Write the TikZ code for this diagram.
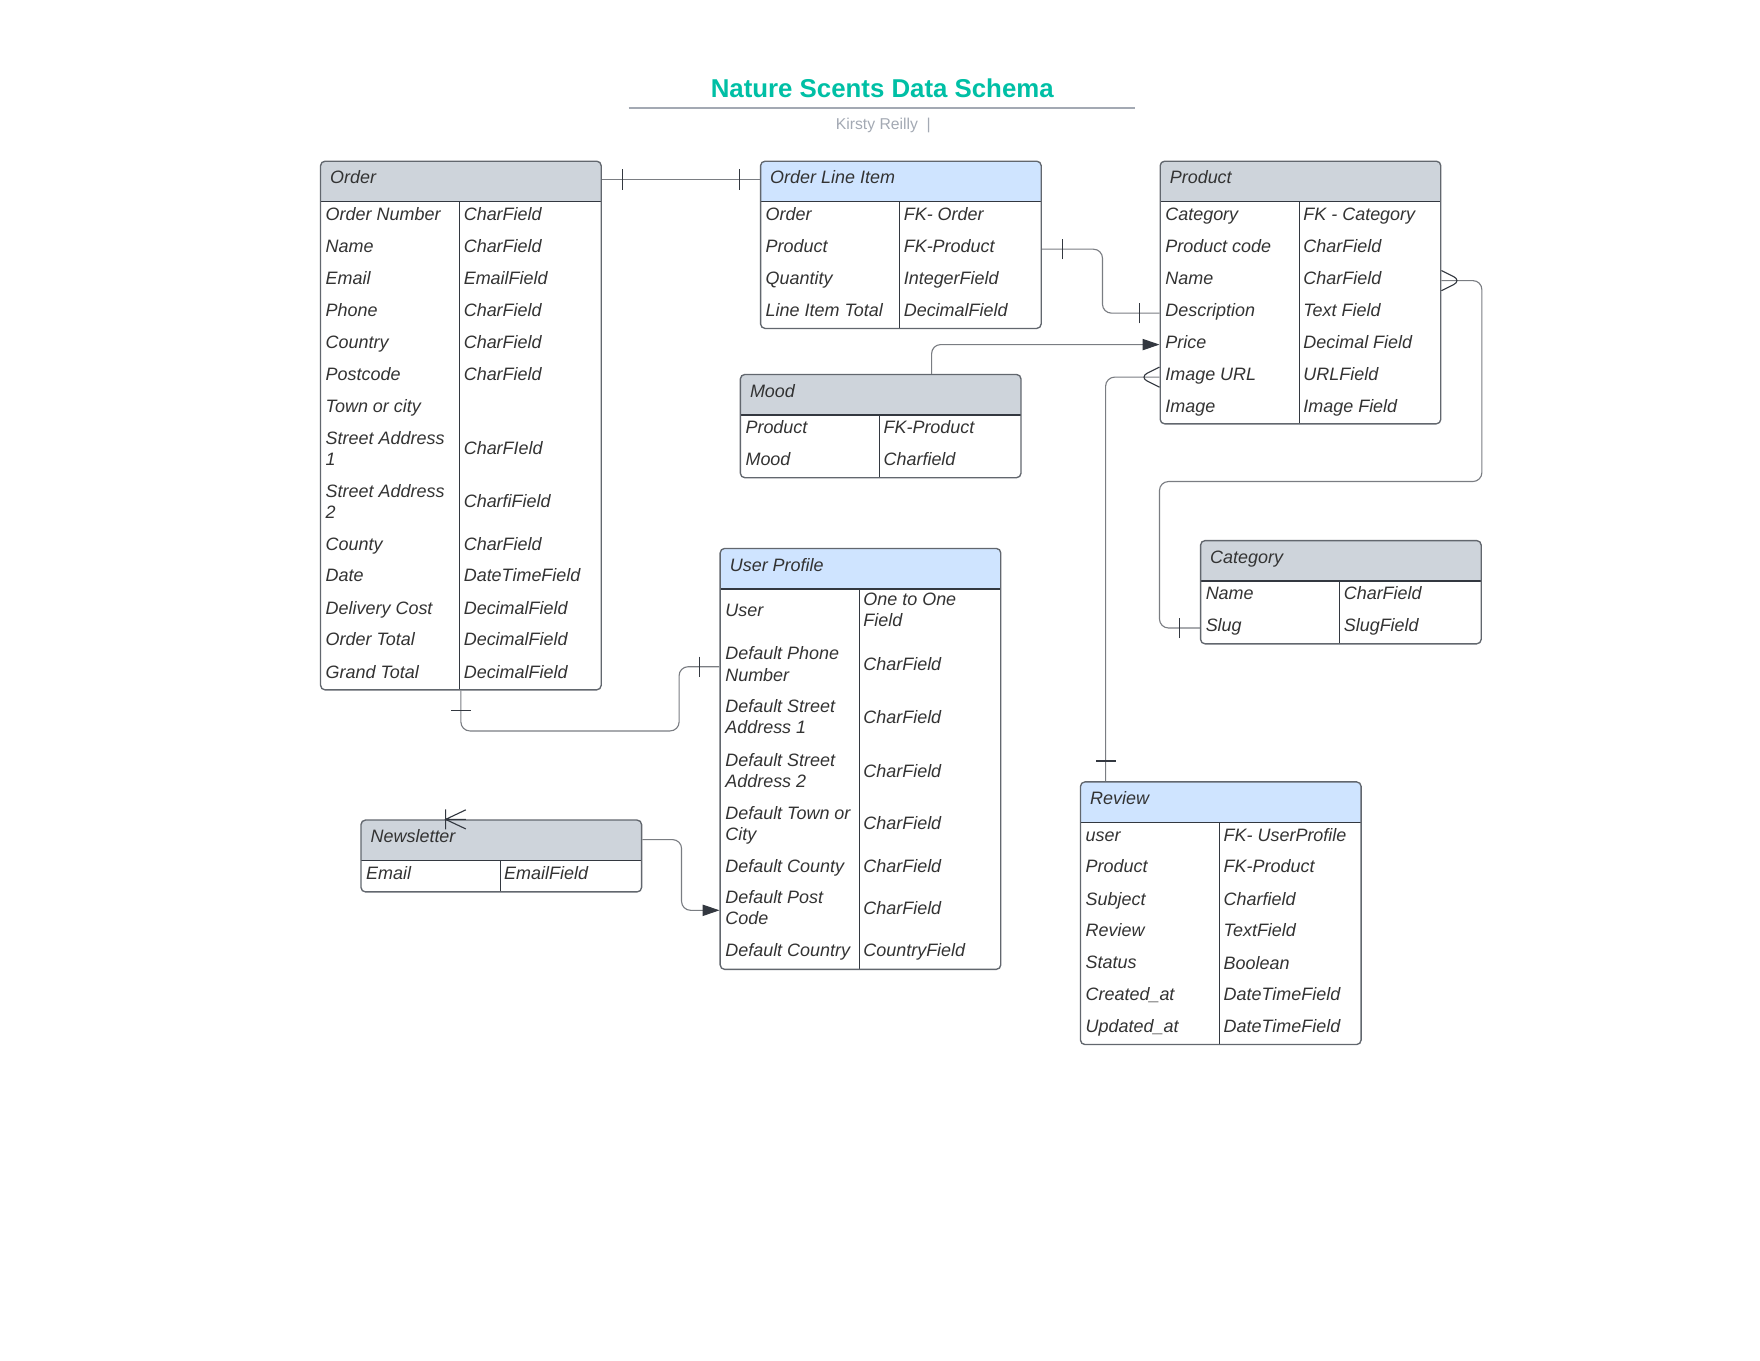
\documentclass[tikz,border=0pt]{standalone}
\usepackage{fontspec}
\setmainfont{Liberation Sans}
\usetikzlibrary{positioning,calc,arrows.meta,decorations.markings}
\definecolor{headgray}{HTML}{CED4DB}
\definecolor{headblue}{HTML}{CFE4FF}
\definecolor{titleteal}{HTML}{00BFA5}
\definecolor{subgray}{HTML}{A3A9B3}
\definecolor{boxline}{HTML}{62676E}
\definecolor{linkgray}{HTML}{7A7D82}
\definecolor{markdark}{HTML}{333840}
\definecolor{textdark}{HTML}{333333}

\begin{document}
\begin{tikzpicture}[x=1pt,y=-1pt]
  \tikzset{ertable/.style={draw=boxline, line width=1.2pt, rounded corners=4pt, fill=white,
      anchor=north west, inner sep=0pt, minimum width=250pt,
      path picture={
        \fill[#1, sharp corners] (path picture bounding box.north west) rectangle ([yshift=-36pt]path picture bounding box.north east);
        \draw[markdark, line width=1.2pt, sharp corners] ([yshift=-36pt]path picture bounding box.north west) -- ([yshift=-36pt]path picture bounding box.north east);
        \draw[markdark, line width=1pt, sharp corners] ([xshift=124pt,yshift=-36pt]path picture bounding box.north west) -- ([xshift=124pt]path picture bounding box.south west);}}}
  \tikzset{cell/.style={anchor=west, inner sep=0pt, align=left, text=textdark,
      font=\fontsize{16}{19}\selectfont\itshape,
      execute at begin node={\rule[-5pt]{0pt}{16.5pt}},
      execute at end node={\rule[-5pt]{0pt}{5pt}}}}
  \tikzset{conn/.style={draw=linkgray, line width=1pt, rounded corners=8pt}}
  \tikzset{one start/.style={postaction={decorate, decoration={markings,
      mark=at position 18pt with {\draw[markdark, line width=1pt] (0,-9pt) -- (0,9pt);}}}}}
  \tikzset{one end/.style={postaction={decorate, decoration={markings,
      mark=at position -18pt with {\draw[markdark, line width=1pt] (0,-9pt) -- (0,9pt);}}}}}
  \tikzset{many start/.style={postaction={decorate, decoration={markings,
      mark=at position 18pt with {\draw[markdark, line width=1pt] (-18pt,9pt) -- (0,0) -- (-18pt,-9pt);}}}}}
  \tikzset{many end/.style={postaction={decorate, decoration={markings,
      mark=at position -18pt with {\draw[markdark, line width=1pt] (18pt,9pt) -- (0,0) -- (18pt,-9pt);}}}}}
  \tikzset{arrowhead/.style={-{Triangle[length=15pt,width=10pt,color=markdark]}}}

  \useasboundingbox (0,0) rectangle (1568,1212);

  % title
  \node[anchor=base, text=titleteal, font=\fontsize{23}{28}\selectfont\bfseries] (title) at (786,87) {Nature Scents Data Schema};
  \draw[subgray, line width=1.5pt] (560,96) -- (1011,96);
  \node[anchor=base, text=subgray, font=\fontsize{14}{17}\selectfont] (author) at (787,115) {Kirsty Reilly\ \ |};

  % Order
  \node[ertable=headgray, minimum height=471pt] (order) at (285,143) {};
  \node[cell] (order-h) at ($(order.north west)+(9,17.5)$) {Order};
  \foreach \f/\t/\y [count=\i] in {Order Number/CharField/50, Name/CharField/79, Email/EmailField/107,
      Phone/CharField/136, Country/CharField/164, Postcode/CharField/193, Town or city//221,
      {Street Address\\1}/CharFIeld/259, {Street Address\\2}/CharfiField/306, County/CharField/344,
      Date/DateTimeField/372, Delivery Cost/DecimalField/401, Order Total/DecimalField/429,
      Grand Total/DecimalField/458}{
    \node[cell] (order-f\i) at ($(order.north west)+(5,\y)$) {\f};
    \node[cell] (order-t\i) at ($(order.north west)+(128,\y)$) {\t};
  }

  % Order Line Item
  \node[ertable=headblue, minimum height=149pt] (lineitem) at (677,143) {};
  \node[cell] (lineitem-h) at ($(lineitem.north west)+(9,17.5)$) {Order Line Item};
  \foreach \f/\t/\y [count=\i] in {Order/FK- Order/50, Product/FK-Product/79, Quantity/IntegerField/107,
      Line Item Total/DecimalField/136}{
    \node[cell] (lineitem-f\i) at ($(lineitem.north west)+(5,\y)$) {\f};
    \node[cell] (lineitem-t\i) at ($(lineitem.north west)+(128,\y)$) {\t};
  }

  % Product
  \node[ertable=headgray, minimum height=234pt] (product) at (1033,143) {};
  \node[cell] (product-h) at ($(product.north west)+(9,17.5)$) {Product};
  \foreach \f/\t/\y [count=\i] in {Category/FK - Category/50, Product code/CharField/79, Name/CharField/107,
      Description/Text Field/136, Price/Decimal Field/164, Image URL/URLField/193, Image/Image Field/221}{
    \node[cell] (product-f\i) at ($(product.north west)+(5,\y)$) {\f};
    \node[cell] (product-t\i) at ($(product.north west)+(128,\y)$) {\t};
  }

  % Mood
  \node[ertable=headgray, minimum height=92pt] (mood) at (659,333) {};
  \node[cell] (mood-h) at ($(mood.north west)+(9,17.5)$) {Mood};
  \foreach \f/\t/\y [count=\i] in {Product/FK-Product/50, Mood/Charfield/78}{
    \node[cell] (mood-f\i) at ($(mood.north west)+(5,\y)$) {\f};
    \node[cell] (mood-t\i) at ($(mood.north west)+(128,\y)$) {\t};
  }

  % Category
  \node[ertable=headgray, minimum height=92pt] (category) at (1069,481) {};
  \node[cell] (category-h) at ($(category.north west)+(9,17.5)$) {Category};
  \foreach \f/\t/\y [count=\i] in {Name/CharField/50, Slug/SlugField/78.5}{
    \node[cell] (category-f\i) at ($(category.north west)+(5,\y)$) {\f};
    \node[cell] (category-t\i) at ($(category.north west)+(128,\y)$) {\t};
  }

  % User Profile
  \node[ertable=headblue, minimum height=375pt] (profile) at (641,488) {};
  \node[cell] (profile-h) at ($(profile.north west)+(9,17.5)$) {User Profile};
  \foreach \f/\t/\y [count=\i] in {User/{One to One\\Field}/58, {Default Phone\\Number}/CharField/106,
      {Default Street\\Address 1}/CharField/153, {Default Street\\Address 2}/CharField/201,
      {Default Town or\\City}/CharField/248, Default County/CharField/286,
      {Default Post\\Code}/CharField/323, Default Country/CountryField/361}{
    \node[cell] (profile-f\i) at ($(profile.north west)+(5,\y)$) {\f};
    \node[cell] (profile-t\i) at ($(profile.north west)+(128,\y)$) {\t};
  }

  % Newsletter
  \node[ertable=headgray, minimum height=64pt] (news) at (321,730) {};
  \node[cell] (news-h) at ($(news.north west)+(9,17.5)$) {Newsletter};
  \node[cell] (news-f1) at ($(news.north west)+(5,50)$) {Email};
  \node[cell] (news-t1) at ($(news.north west)+(128,50)$) {EmailField};
  \draw[markdark, line width=1pt] ($(news.north west)+(76,-9)$) -- ($(news.north west)+(76,9)$)
    ($(news.north west)+(94,-8.5)$) -- ($(news.north west)+(76,0)$) -- ($(news.north west)+(94,8.5)$)
    ($(news.north west)+(76,0)$) -- ($(news.north west)+(94,0)$);

  % Review
  \node[ertable=headblue, minimum height=234pt] (review) at (962,696) {};
  \node[cell] (review-h) at ($(review.north west)+(9,17.5)$) {Review};
  \foreach \f/\t/\y [count=\i] in {user/FK- UserProfile/50, Product/FK-Product/78, Subject/Charfield/107,
      Review/TextField/135, Status/Boolean/164, Created\_at/DateTimeField/192, Updated\_at/DateTimeField/221}{
    \node[cell] (review-f\i) at ($(review.north west)+(5,\y)$) {\f};
    \node[cell] (review-t\i) at ($(review.north west)+(128,\y)$) {\t};
  }

  % relations
  \draw[conn, one start, one end] ($(order.north east)+(0,17)$) -- ($(lineitem.north west)+(0,17)$);
  \draw[conn, one start, one end] (lineitem.east |- lineitem-f2) -- ++(54,0) |- (product.west |- product-f4);
  \draw[conn, arrowhead] ($(mood.north west)+(171,0)$) |- (product.west |- product-f5);
  \draw[conn, one start, many end] ($(review.north west)+(23,0)$) |- (product.west |- product-f6);
  \draw[conn, many start, one end] (product.east |- product-f3) -| ($(category.north east)+(0,-52)$)
    -| (product.west |- category-f2) -- (category.west |- category-f2);
  \draw[conn, one start, one end] (profile.west |- profile-f2) -- ++(-36,0) |- ($(order.south)+(0,36)$) -- (order.south);
  \draw[conn, arrowhead] ($(news.north east)+(0,18)$) -- ++(35,0) |- (profile.west |- profile-f7);
\end{tikzpicture}
\end{document}
